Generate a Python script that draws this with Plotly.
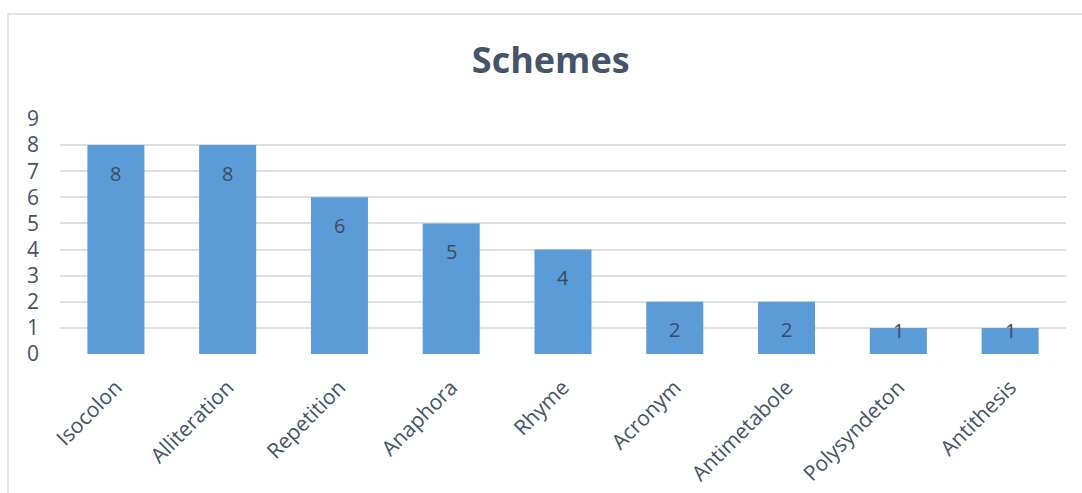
import plotly.graph_objects as go

# Schemes counts
categories = ["Isocolon", "Alliteration", "Repetition", "Anaphora", "Rhyme",
              "Acronym", "Antimetabole", "Polysyndeton", "Antithesis"]
counts = [8, 8, 6, 5, 4, 2, 2, 1, 1]
y_ticks = list(range(0, 10))

W, H = 1082, 493
M_L, M_R, M_T, M_B = 60, 16, 119, 139
plot_h = H - M_T - M_B
px_per_unit = plot_h / 9

text_col = "#44546A"
grid_col = "#DCE0E6"
font_family = "'Open Sans', Lato, sans-serif"

fig = go.Figure()
fig.add_trace(go.Bar(
    x=categories,
    y=counts,
    width=0.51,
    marker=dict(color="#5A9BD8", line=dict(width=0)),
    hoverinfo="x+y",
))

# value labels sit just inside the top of each bar, never below the baseline area
for cat, v in zip(categories, counts):
    shift = -min(28, v * px_per_unit - 24)
    fig.add_annotation(
        x=cat, y=v, yshift=shift, text=str(v), showarrow=False,
        yanchor="middle", xanchor="center",
        font=dict(family=font_family, size=20, color="#404B5C"),
    )

# outer chart frame
fig.add_shape(
    type="rect", xref="paper", yref="paper",
    x0=(8 - M_L) / (W - M_L - M_R), x1=1.2,
    y0=-1.0, y1=(H - M_B - 14) / plot_h,
    line=dict(color="#D9DCE0", width=1.5), fillcolor="rgba(0,0,0,0)",
    layer="below",
)

fig.update_layout(
    width=W, height=H,
    margin=dict(l=M_L, r=M_R, t=M_T, b=M_B),
    paper_bgcolor="white", plot_bgcolor="white",
    showlegend=False,
    bargap=0.49,
    title=dict(
        text="<b>Schemes</b>", x=0.509, xanchor="center", y=0.877, yanchor="middle",
        font=dict(family=font_family, size=36, color=text_col),
    ),
    xaxis=dict(
        type="category", tickangle=-45, showgrid=False, zeroline=False,
        showline=False, ticks="", ticklabelstandoff=16, automargin=False,
        tickfont=dict(family=font_family, size=21, color=text_col),
    ),
    yaxis=dict(
        range=[0, 9], tickvals=y_ticks, showgrid=True, gridcolor=grid_col,
        gridwidth=2, zeroline=False, showline=False, ticks="",
        ticklabelstandoff=20, automargin=False,
        tickfont=dict(family=font_family, size=21, color=text_col),
    ),
)

fig.write_html("out.html")
